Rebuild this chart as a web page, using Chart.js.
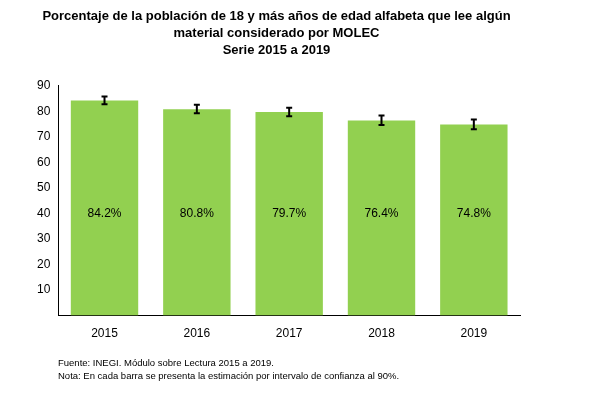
<!DOCTYPE html>
<html><head><meta charset="utf-8">
<script src="https://cdn.jsdelivr.net/npm/chart.js@4"></script>
<style>
body{margin:0;background:#fff;font-family:"Liberation Sans",Arial,sans-serif;}
#wrap{position:absolute;left:0;top:0;width:592px;height:400px;}
.note{position:absolute;left:58px;font-size:9.5px;color:#000;}
</style></head><body>
<div id="wrap"><canvas id="c" width="592" height="400"></canvas></div>
<div class="note" style="top:357px">Fuente: INEGI. Módulo sobre Lectura 2015 a 2019.</div>
<div class="note" style="top:370px">Nota: En cada barra se presenta la estimación por intervalo de confianza al 90%.</div>
<script>
const years=["2015","2016","2017","2018","2019"];
const values=[84.2,80.8,79.7,76.4,74.8];
const lower=[82.7,79.2,78.0,74.6,73.0];
const upper=[85.8,82.5,81.4,78.3,76.8];
const labels=["84.2%","80.8%","79.7%","76.4%","74.8%"];

const extras={id:'extras',afterDatasetsDraw(ch){
  const c=ch.ctx,x=ch.scales.x,y=ch.scales.y;
  c.save();
  c.strokeStyle='#000';c.lineWidth=2;
  years.forEach((v,i)=>{
    const px=x.getPixelForValue(i),lo=y.getPixelForValue(lower[i]),hi=y.getPixelForValue(upper[i]);
    c.beginPath();c.moveTo(px,lo);c.lineTo(px,hi);
    c.moveTo(px-3,lo);c.lineTo(px+3,lo);c.moveTo(px-3,hi);c.lineTo(px+3,hi);c.stroke();
    c.fillStyle='#000';c.font='12px "Liberation Sans", Arial';c.textAlign='center';c.textBaseline='middle';
    c.fillText(labels[i],px,y.getPixelForValue(40));
  });
  c.restore();
}};

new Chart(document.getElementById('c'),{
  type:'bar',
  data:{labels:years,datasets:[{data:values,backgroundColor:'#92D050',barPercentage:0.73,categoryPercentage:1}]},
  options:{responsive:false,animation:false,
    layout:{padding:{left:33,right:72,top:2,bottom:56}},
    plugins:{legend:{display:false},tooltip:{enabled:false},
      title:{display:true,text:["Porcentaje de la población de 18 y más años de edad alfabeta que lee algún","material considerado por MOLEC","Serie 2015 a 2019"],
        font:{family:'"Liberation Sans", Arial',size:13,weight:'bold',lineHeight:1.3},color:'#000',padding:{top:6,bottom:27}}},
    scales:{
      y:{min:0,max:90,ticks:{stepSize:10,color:'#000',font:{family:'"Liberation Sans", Arial',size:12},padding:4,callback:v=>v===0?'':v},
        grid:{display:false,drawTicks:true,tickLength:4,tickColor:'#000'},border:{color:'#000'}},
      x:{ticks:{color:'#000',font:{family:'"Liberation Sans", Arial',size:12}},
        grid:{display:false},border:{color:'#000'}}
    }},
  plugins:[extras]
});
</script></body></html>
